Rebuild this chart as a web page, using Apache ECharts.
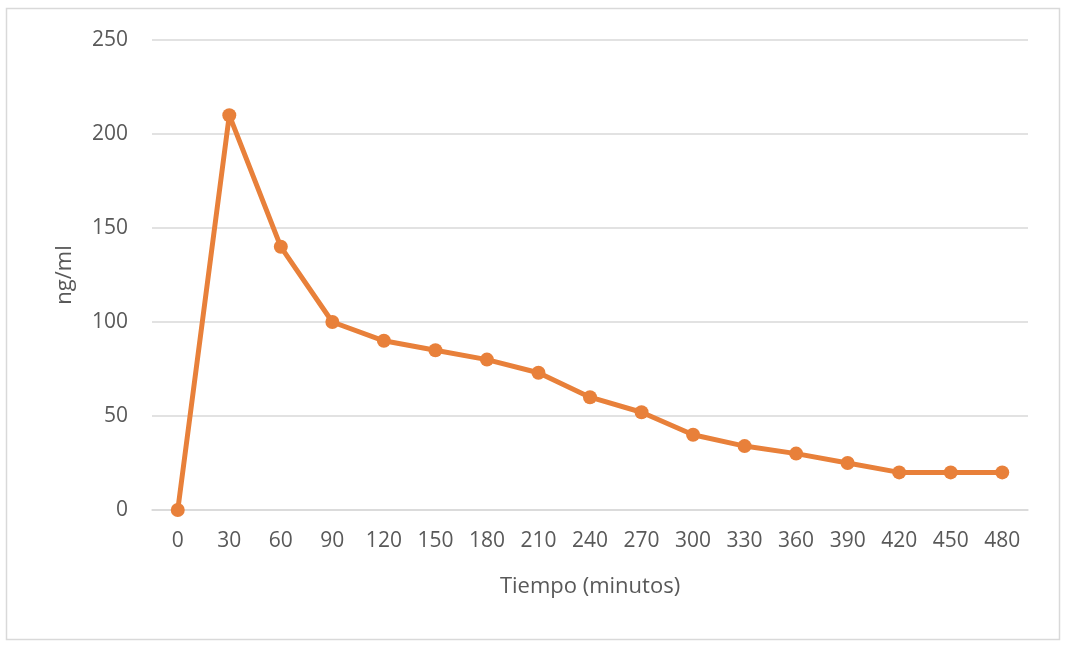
<!DOCTYPE html>
<html><head><meta charset="utf-8">
<script src="https://cdn.jsdelivr.net/npm/echarts@6/dist/echarts.min.js"></script>
<style>html,body{margin:0;padding:0;background:#fff}#c{width:1070px;height:651px}</style>
</head><body><div id="c"></div>
<script>
const categories = ['0','30','60','90','120','150','180','210','240','270','300','330','360','390','420','450','480'];
const values = [0,210,140,100,90,85,80,73,60,52,40,34,30,25,20,20,20];
const yTicks = [0,50,100,150,200,250];
const xName = 'Tiempo (minutos)';
const yName = 'ng/ml';

const chart = echarts.init(document.getElementById('c'));
const font = '"Open Sans", "Liberation Sans", sans-serif';
chart.setOption({
  animation:false,
  backgroundColor:'#fff',
  graphic:[{type:'rect',shape:{x:6.5,y:8.5,width:1053,height:631},style:{fill:'none',stroke:'#d9d9d9',lineWidth:1.5},silent:true}],
  grid:{left:152,right:42,top:40,bottom:141},
  xAxis:{type:'category',data:categories,boundaryGap:true,
    axisLine:{show:true,lineStyle:{color:'#d9d9d9',width:1.5}},axisTick:{show:false},
    axisLabel:{color:'#595959',fontSize:21,fontFamily:font,margin:21},
    name:xName,nameLocation:'middle',nameGap:66,nameTextStyle:{color:'#595959',fontSize:22,fontFamily:font}},
  yAxis:{type:'value',min:yTicks[0],max:yTicks[yTicks.length-1],interval:50,
    axisLine:{show:false},axisTick:{show:false},
    splitLine:{lineStyle:{color:'#d9d9d9',width:1.5}},
    axisLabel:{color:'#595959',fontSize:21,fontFamily:font,margin:24},
    name:yName,nameLocation:'middle',nameGap:76,nameTextStyle:{color:'#595959',fontSize:22,fontFamily:font}},
  series:[{type:'line',data:values,color:'#E8803A',
    lineStyle:{width:5,color:'#E8803A'},symbol:'circle',symbolSize:14,
    itemStyle:{color:'#E8803A'}}]
});
</script></body></html>
